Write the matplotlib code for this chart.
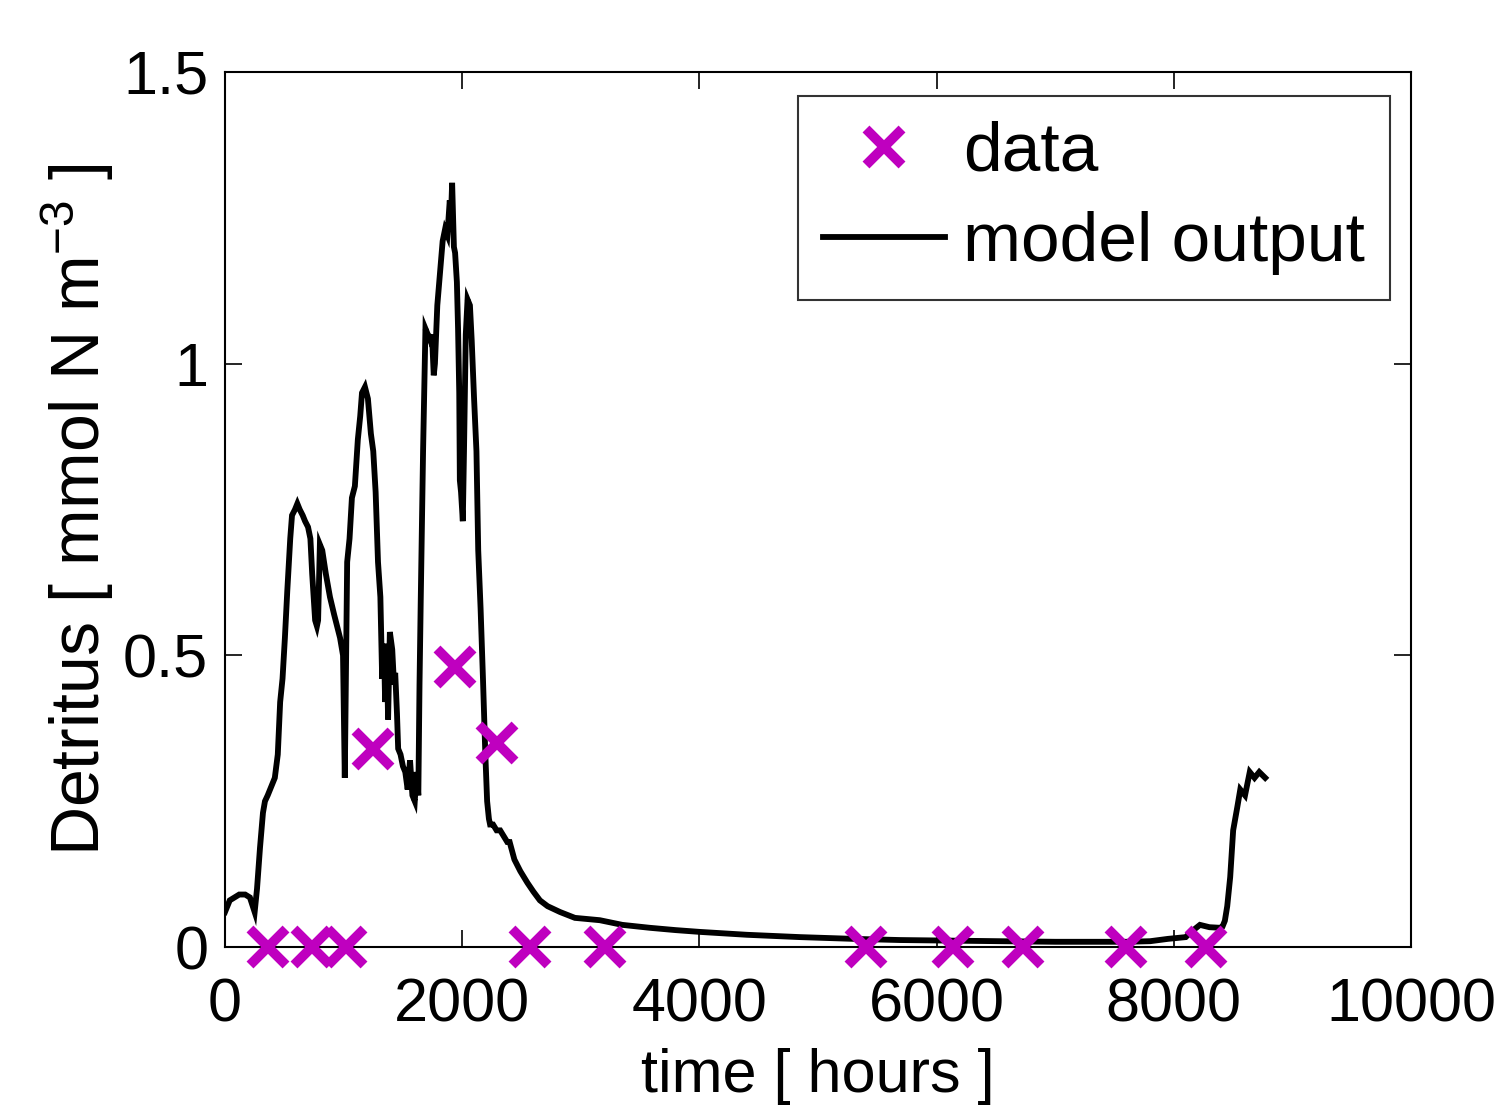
import matplotlib
matplotlib.use("Agg")
import matplotlib.pyplot as plt

plt.rcParams["font.family"] = ["Liberation Sans", "DejaVu Sans"]
plt.rcParams["mathtext.fontset"] = "custom"
plt.rcParams["mathtext.rm"] = "Liberation Sans"
plt.rcParams["mathtext.it"] = "Liberation Sans"

# model output (hours, mmol N m^-3)
model_t = [0, 40, 80, 120, 170, 210, 250, 270,
           295, 320, 337, 360, 380, 400, 420, 445,
           465, 485, 505, 525, 550, 565, 590, 610,
           630, 655, 675, 700, 720, 735, 760, 775,
           785, 800, 820, 850, 885, 920, 970, 995,
           1010, 1030, 1050, 1070, 1095, 1120, 1140, 1155,
           1180, 1205, 1230, 1250, 1270, 1290, 1310, 1325,
           1340, 1350, 1365, 1375, 1390, 1410, 1425, 1435,
           1450, 1460, 1480, 1500, 1520, 1540, 1560, 1580,
           1600, 1615, 1630, 1640, 1650, 1670, 1690, 1710,
           1730, 1745, 1760, 1770, 1790, 1815, 1835, 1855,
           1875, 1895, 1905, 1915, 1930, 1940, 1955, 1965,
           1975, 1980, 1990, 2005, 2015, 2030, 2045, 2065,
           2080, 2100, 2120, 2135, 2155, 2175, 2195, 2210,
           2225, 2235, 2260, 2290, 2320, 2350, 2380, 2400,
           2440, 2490, 2550, 2600, 2655, 2720, 2825, 2950,
           3160, 3350, 3580, 3800, 4000, 4400, 4850, 5300,
           5690, 6100, 6535, 7000, 7380, 7600, 7800, 7950,
           8050, 8100, 8140, 8220, 8300, 8390, 8410, 8430,
           8450, 8475, 8500, 8535, 8560, 8600, 8640, 8680,
           8720, 8770]
model_y = [0.06, 0.08, 0.085, 0.09, 0.09, 0.085, 0.06, 0.10,
           0.17, 0.23, 0.25, 0.26, 0.27, 0.28, 0.29, 0.33,
           0.42, 0.46, 0.53, 0.61, 0.70, 0.74, 0.75, 0.76,
           0.75, 0.74, 0.73, 0.72, 0.70, 0.64, 0.56, 0.55,
           0.56, 0.69, 0.68, 0.64, 0.60, 0.57, 0.53, 0.50,
           0.29, 0.66, 0.70, 0.77, 0.79, 0.87, 0.91, 0.95,
           0.96, 0.94, 0.88, 0.85, 0.78, 0.66, 0.60, 0.46,
           0.52, 0.42, 0.50, 0.39, 0.54, 0.51, 0.45, 0.47,
           0.40, 0.34, 0.33, 0.31, 0.30, 0.27, 0.32, 0.26,
           0.25, 0.30, 0.26, 0.45, 0.59, 0.85, 1.06, 1.05,
           1.04, 1.05, 0.98, 1.00, 1.10, 1.16, 1.21, 1.23,
           1.22, 1.28, 1.25, 1.31, 1.20, 1.19, 1.14, 1.06,
           0.95, 0.80, 0.78, 0.73, 0.85, 1.05, 1.11, 1.10,
           1.04, 0.94, 0.85, 0.68, 0.58, 0.46, 0.33, 0.25,
           0.22, 0.21, 0.21, 0.20, 0.20, 0.19, 0.18, 0.18,
           0.15, 0.13, 0.11, 0.095, 0.08, 0.07, 0.06, 0.05,
           0.046, 0.038, 0.033, 0.029, 0.026, 0.021, 0.017, 0.014,
           0.012, 0.011, 0.010, 0.009, 0.009, 0.009, 0.010, 0.014,
           0.016, 0.017, 0.025, 0.038, 0.034, 0.033, 0.035, 0.045,
           0.07, 0.12, 0.20, 0.24, 0.27, 0.26, 0.30, 0.29,
           0.30, 0.29]

# observations
data_t = [363, 734, 1020, 1248, 1939, 2293, 2572, 3204, 5405, 6138, 6728, 7597, 8272]
data_y = [0, 0, 0, 0.34, 0.48, 0.35, 0, 0, 0, 0, 0, 0, 0]

fig = plt.figure(figsize=(14.97, 11.16), dpi=100)
ax = fig.add_axes([0.1503, 0.1514, 0.7923, 0.7841])

ax.plot(data_t, data_y, "x", color=(0.75, 0, 0.75), markersize=26,
        markeredgewidth=7, label="data", clip_on=False, zorder=3)
ax.plot(model_t, model_y, "-", color="black", linewidth=4.2,
        solid_joinstyle="miter", label="model output")

ax.set_xlim(0, 10000)
ax.set_ylim(0, 1.5)
ax.set_xticks([0, 2000, 4000, 6000, 8000, 10000])
ax.set_yticks([0, 0.5, 1, 1.5])
ax.set_yticklabels(["0", "0.5", "1", "1.5"])
ax.tick_params(direction="in", length=12, width=1.2, top=True, right=True,
               labelsize=44, pad=12)
ax.tick_params(axis="x", pad=22)
for s in ax.spines.values():
    s.set_linewidth(1.5)

ax.set_xlabel("time [ hours ]", fontsize=44, labelpad=10)
ax.set_ylabel("Detritus [ mmol N m$^{-3}$ ]", fontsize=49, labelpad=5)

leg = ax.legend(loc="upper right", fontsize=50, frameon=True, fancybox=False,
                edgecolor="black", handlelength=1.75, handletextpad=0.26,
                borderpad=0.36, labelspacing=0.38, borderaxespad=0,
                bbox_to_anchor=(0.982, 0.9726))
leg.get_frame().set_linewidth(1.5)

fig.savefig("out.png", dpi=100)
